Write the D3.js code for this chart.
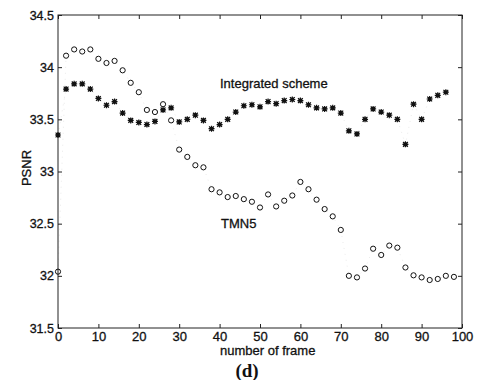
<!DOCTYPE html>
<html>
<head>
<meta charset="utf-8">
<script src="https://cdn.jsdelivr.net/npm/d3@7"></script>
<style>
  html, body { margin: 0; padding: 0; background: #fff; }
  svg { display: block; }
  text { font-family: "Liberation Sans", Arial, sans-serif; fill: #111; }
</style>
</head>
<body>
<svg id="chart" width="499" height="380"></svg>
<script>
// ---- data ----
const framesIntegrated = [0,2,4,6,8,10,12,14,16,18,20,22,24,26,28,30,32,34,36,38,40,42,44,46,48,50,52,54,56,58,60,62,64,66,68,70,72,74,76,78,80,82,84,86,88,90,92,94,96];
const psnrIntegrated = [33.35,33.79,33.84,33.84,33.79,33.70,33.635,33.67,33.56,33.49,
  33.47,33.45,33.48,33.59,33.61,33.475,33.50,33.54,33.49,33.41,
  33.45,33.50,33.57,33.63,33.64,33.62,33.67,33.65,33.68,33.69,
  33.68,33.64,33.61,33.60,33.61,33.56,33.39,33.36,33.50,33.60,
  33.57,33.54,33.50,33.26,33.645,33.50,33.695,33.73,33.76];
const framesTMN5 = [0,2,4,6,8,10,12,14,16,18,20,22,24,26,28,30,32,34,36,38,40,42,44,46,48,50,52,54,56,58,60,62,64,66,68,70,72,74,76,78,80,82,84,86,88,90,92,94,96,98];
const psnrTMN5 = [32.04,34.11,34.17,34.15,34.17,34.08,34.04,34.06,33.97,33.85,
  33.76,33.59,33.57,33.645,33.49,33.21,33.14,33.06,33.04,32.83,
  32.80,32.755,32.765,32.735,32.71,32.655,32.78,32.665,32.72,32.77,
  32.90,32.83,32.73,32.64,32.57,32.44,32.00,31.985,32.07,32.26,
  32.20,32.29,32.27,32.08,32.005,31.985,31.96,31.97,32.00,31.99];
const xTicks = [0,10,20,30,40,50,60,70,80,90,100];
const yTicks = [31.5,32,32.5,33,33.5,34,34.5];
const yTickLabels = ["31.5","32","32.5","33","33.5","34","34.5"];
const xLabel = "number of frame";
const yLabel = "PSNR";
const seriesNames = ["Integrated scheme", "TMN5"];
const caption = "(d)";

// ---- layout ----
const svg = d3.select("#chart");
const L = 58, R = 462, T = 15, B = 328;
const x = d3.scaleLinear().domain([0, 100]).range([L, R]);
const y = d3.scaleLinear().domain([31.5, 34.5]).range([B, T]);

const intData = framesIntegrated.map((f, i) => ({ f, v: psnrIntegrated[i] }));
const tmnData = framesTMN5.map((f, i) => ({ f, v: psnrTMN5[i] }));

// faint dotted connecting lines (mostly lost in the scan)
const line = d3.line().x(d => x(d.f)).y(d => y(d.v));
[intData, tmnData].forEach(data => {
  svg.append("path").datum(data).attr("d", line)
    .attr("fill", "none").attr("stroke", "#aaa").attr("stroke-width", 0.7)
    .attr("stroke-dasharray", "1,5").attr("opacity", 0.35);
});

// box
svg.append("rect").attr("x", L).attr("y", T).attr("width", R - L).attr("height", B - T)
  .attr("fill", "none").attr("stroke", "#222").attr("stroke-width", 1);

// axes
const fmtY = d => yTickLabels[yTicks.indexOf(d)];
const gx = svg.append("g").attr("transform", `translate(0,${B})`)
  .call(d3.axisBottom(x).tickValues(xTicks).tickSizeInner(-4).tickSizeOuter(0).tickPadding(4));
const gy = svg.append("g").attr("transform", `translate(${L},0)`)
  .call(d3.axisLeft(y).tickValues(yTicks).tickFormat(fmtY).tickSizeInner(-4).tickSizeOuter(0).tickPadding(4));
const gt = svg.append("g").attr("transform", `translate(0,${T})`)
  .call(d3.axisTop(x).tickValues(xTicks).tickFormat("").tickSizeInner(-4).tickSizeOuter(0));
const gr = svg.append("g").attr("transform", `translate(${R},0)`)
  .call(d3.axisRight(y).tickValues(yTicks).tickFormat("").tickSizeInner(-4).tickSizeOuter(0));
[gx, gy, gt, gr].forEach(g => {
  g.select(".domain").remove();
  g.selectAll("line").attr("stroke", "#222");
  g.selectAll("text").attr("font-family", "Liberation Sans, Arial, sans-serif")
    .attr("font-size", 13).attr("fill", "#111")
    .attr("stroke", "#111").attr("stroke-width", 0.3);
});
gy.selectAll("text").attr("font-size", 12.5);

// TMN5 circles
svg.append("g").selectAll("circle").data(tmnData).join("circle")
  .attr("cx", d => x(d.f)).attr("cy", d => y(d.v)).attr("r", 2.6)
  .attr("fill", "none").attr("stroke", "#111").attr("stroke-width", 1);

// Integrated asterisks
const star = svg.append("g").selectAll("g").data(intData).join("g")
  .attr("transform", d => `translate(${x(d.f)},${y(d.v)})`);
star.append("path")
  .attr("d", "M-3,0H3M0,-3V3M-2.4,-2.4L2.4,2.4M-2.4,2.4L2.4,-2.4")
  .attr("stroke", "#111").attr("stroke-width", 1.2).attr("fill", "none");
star.append("rect").attr("x", -1.8).attr("y", -1.8).attr("width", 3.6).attr("height", 3.6)
  .attr("fill", "#111");

// annotations
const bolden = s => s.attr("stroke", "#111").attr("stroke-width", 0.3);
bolden(svg.append("text").attr("x", 220).attr("y", 88).attr("font-size", 13).text(seriesNames[0]));
bolden(svg.append("text").attr("x", 221).attr("y", 228).attr("font-size", 13).text(seriesNames[1]));

// axis labels
bolden(svg.append("text").attr("x", 220).attr("y", 355).attr("font-size", 13).text(xLabel));
bolden(svg.append("text").attr("transform", "translate(31,168) rotate(-90)")
  .attr("text-anchor", "middle").attr("font-size", 13).text(yLabel));
svg.append("text").attr("x", 247).attr("y", 377).attr("text-anchor", "middle")
  .style("font-family", "'Liberation Serif', 'Times New Roman', serif")
  .attr("font-weight", "bold")
  .attr("font-size", 19).text(caption);
</script>
</body>
</html>
